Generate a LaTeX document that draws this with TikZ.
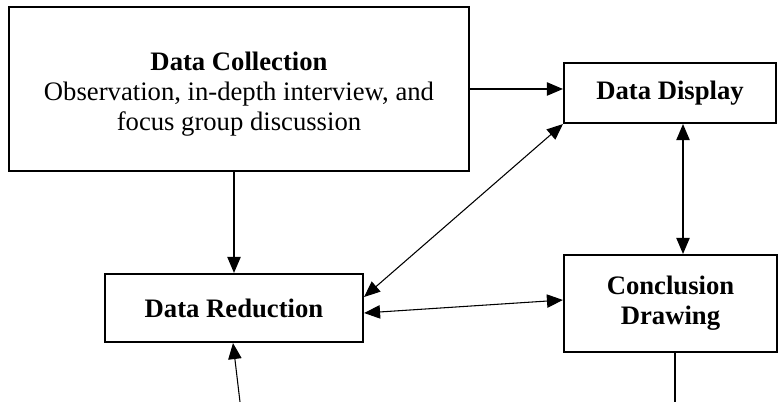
\documentclass[tikz,border=0pt]{standalone}
\usepackage{fontspec}
\setmainfont{Liberation Serif}
\usetikzlibrary{arrows.meta,calc}
\begin{document}
\begin{tikzpicture}[x=0.75pt,y=-0.75pt,
  box/.style={draw,line width=1.6pt,rectangle,align=center,inner sep=0pt,
    font=\fontsize{20}{22.5}\selectfont},
  arr/.style={line width=0.8pt,-{Triangle[length=12pt,width=10pt]}},
  darr/.style={line width=0.8pt,{Triangle[length=12pt,width=10pt]}-{Triangle[length=12pt,width=10pt]}},
  ln/.style={line width=0.8pt}]
\useasboundingbox (0,0) rectangle (780,402);
\node[box,minimum width=345pt,minimum height=123pt] (DC) at (239,89)
  {\rule{0pt}{21pt}\textbf{Data Collection}\\Observation, in-depth interview, and\\focus group discussion};
\node[box,minimum width=159pt,minimum height=45pt] (DD) at (670,93) {\textbf{Data Display}};
\node[box,minimum width=193.5pt,minimum height=51pt] (DR) at (234,308) {\textbf{Data Reduction}};
\node[box,minimum width=159.75pt,minimum height=72.75pt] (CD) at (670.5,303.5) {\textbf{Conclusion}\\\textbf{Drawing}};
\coordinate (bl) at (240,402);
\coordinate (br) at (675,402);
\draw[arr] (DC.east) -- (DC.east -| DD.west);
\draw[arr] (DR.north |- DC.south) -- (DR.north);
\draw[darr] ($(DR.east)+(0,-11)$) -- (DD.south west);
\draw[darr] ($(DR.east)+(0,5)$) -- ($(CD.west)+(0,-3.5)$);
\draw[darr] ($(DD.south)+(13,0)$) -- ($(CD.north)+(12.5,0)$);
\draw[ln] ($(CD.south)+(4.5,0)$) -- (br);
\draw[arr] (bl) -- ($(DR.south)+(-1,0)$);
\end{tikzpicture}
\end{document}
